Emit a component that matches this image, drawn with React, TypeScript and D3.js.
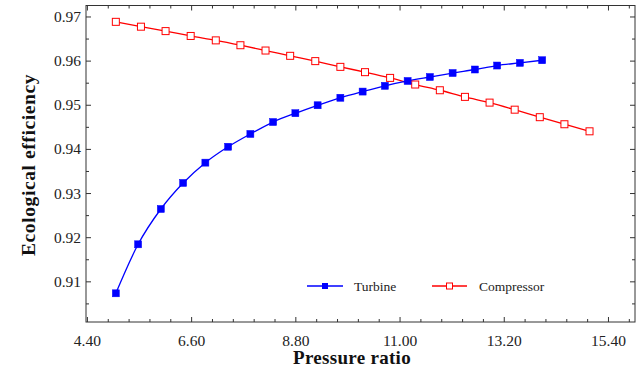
import React from "react";
import * as d3 from "d3";

// ── data ──
const turbineX = [5.0, 5.47, 5.95, 6.42, 6.89, 7.37, 7.84, 8.32, 8.79, 9.26, 9.74, 10.21, 10.68, 11.16, 11.63, 12.11, 12.58, 13.05, 13.53, 14.0];
const turbineY = [0.9074, 0.9185, 0.9265, 0.9324, 0.937, 0.9406, 0.9435, 0.9462, 0.9482, 0.95, 0.9517, 0.9531, 0.9544, 0.9555, 0.9564, 0.9573, 0.9581, 0.959, 0.9596, 0.9602];
const compressorX = [5.0, 5.53, 6.05, 6.58, 7.11, 7.63, 8.16, 8.68, 9.21, 9.74, 10.26, 10.79, 11.32, 11.84, 12.37, 12.89, 13.42, 13.95, 14.47, 15.0];
const compressorY = [0.9689, 0.9678, 0.9668, 0.9657, 0.9647, 0.9636, 0.9624, 0.9612, 0.96, 0.9587, 0.9575, 0.9562, 0.9547, 0.9534, 0.9519, 0.9506, 0.949, 0.9473, 0.9457, 0.9441];
const xMajor = [4.4, 6.6, 8.8, 11.0, 13.2, 15.4];
const xMinor = [4.84, 5.28, 5.72, 6.16, 7.04, 7.48, 7.92, 8.36, 9.24, 9.68, 10.12, 10.56, 11.44, 11.88, 12.32, 12.76, 13.64, 14.08, 14.52, 14.96, 15.84];
const yMajor = [0.91, 0.92, 0.93, 0.94, 0.95, 0.96, 0.97];
const yMinor = [0.905, 0.915, 0.925, 0.935, 0.945, 0.955, 0.965];

const W = 641;
const H = 371;
const L = 86, R = 635, T = 5.5, B = 322;
const FONT = "'Liberation Serif', 'Times New Roman', serif";

const x = d3.scaleLinear().domain([4.37, 15.96]).range([L, R]);
const y = d3.scaleLinear().domain([0.9009, 0.9726]).range([B, T]);

const line = d3.line<[number, number]>()
  .x(d => x(d[0]))
  .y(d => y(d[1]))
  .curve(d3.curveMonotoneX);

const turbine = turbineX.map((v, i) => [v, turbineY[i]] as [number, number]);
const compressor = compressorX.map((v, i) => [v, compressorY[i]] as [number, number]);

const MS = 7; // marker size
const FRAME = "#333";

export default function App() {
  return (
    <svg width={W} height={H} style={{ position: "absolute", left: 0, top: 0, background: "#fff" }} fontFamily={FONT}>
      {/* frame */}
      <rect x={L} y={T} width={R - L} height={B - T} fill="none" stroke={FRAME} strokeWidth={1} />

      {/* x ticks, bottom and top, pointing inward */}
      {xMajor.map(t => (
        <g key={"xM" + t}>
          <line x1={x(t)} x2={x(t)} y1={B} y2={B - 5} stroke={FRAME} />
          <line x1={x(t)} x2={x(t)} y1={T} y2={T + 5} stroke={FRAME} />
          <text x={x(t)} y={346} textAnchor="middle" fontSize={15.5} fill="#222">{t.toFixed(2)}</text>
        </g>
      ))}
      {xMinor.map(t => (
        <g key={"xm" + t}>
          <line x1={x(t)} x2={x(t)} y1={B} y2={B - 3} stroke={FRAME} />
          <line x1={x(t)} x2={x(t)} y1={T} y2={T + 3} stroke={FRAME} />
        </g>
      ))}

      {/* y ticks, left and right */}
      {yMajor.map(t => (
        <g key={"yM" + t}>
          <line x1={L} x2={L + 5} y1={y(t)} y2={y(t)} stroke={FRAME} />
          <line x1={R} x2={R - 5} y1={y(t)} y2={y(t)} stroke={FRAME} />
          <text x={81} y={y(t) + 5} textAnchor="end" fontSize={15.5} fill="#222">{t.toFixed(2)}</text>
        </g>
      ))}
      {yMinor.map(t => (
        <g key={"ym" + t}>
          <line x1={L} x2={L + 3} y1={y(t)} y2={y(t)} stroke={FRAME} />
          <line x1={R} x2={R - 3} y1={y(t)} y2={y(t)} stroke={FRAME} />
        </g>
      ))}

      {/* series */}
      <path d={line(compressor) ?? ""} fill="none" stroke="#ff0000" strokeWidth={1.3} />
      <path d={line(turbine) ?? ""} fill="none" stroke="#0000ff" strokeWidth={1.3} />
      {compressor.map((d, i) => (
        <rect key={"c" + i} x={x(d[0]) - MS / 2} y={y(d[1]) - MS / 2} width={MS} height={MS}
          fill="#fff" stroke="#ff0000" strokeWidth={1} />
      ))}
      {turbine.map((d, i) => (
        <rect key={"t" + i} x={x(d[0]) - MS / 2} y={y(d[1]) - MS / 2} width={MS} height={MS}
          fill="#0000ff" stroke="#0000ff" strokeWidth={0.5} />
      ))}

      {/* legend */}
      <g>
        <line x1={307} x2={343} y1={286} y2={286} stroke="#0000ff" strokeWidth={1.3} />
        <rect x={325 - 3} y={286 - 3} width={6} height={6} fill="#0000ff" />
        <text x={354} y={290.5} fontSize={13.5} fill="#222">Turbine</text>
        <line x1={432} x2={467} y1={286} y2={286} stroke="#ff0000" strokeWidth={1.3} />
        <rect x={449.5 - 3} y={286 - 3} width={6} height={6} fill="#fff" stroke="#ff0000" />
        <text x={479} y={290.5} fontSize={13.5} fill="#222">Compressor</text>
      </g>

      {/* axis titles */}
      <text x={352} y={364} textAnchor="middle" fontSize={19} fontWeight="bold" letterSpacing={0.3} fill="#111">Pressure ratio</text>
      <text transform="translate(35,165) rotate(-90)" textAnchor="middle" fontSize={19.5} fontWeight="bold" letterSpacing={0.6} fill="#111">Ecological efficiency</text>
    </svg>
  );
}
